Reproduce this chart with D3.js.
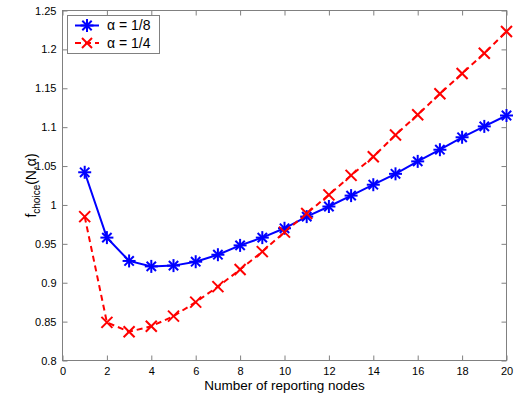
<!DOCTYPE html>
<html><head><meta charset="utf-8">
<script src="https://cdn.jsdelivr.net/npm/d3@7"></script>
<style>body{margin:0;background:#fff}text{font-family:"Liberation Sans",Arial,sans-serif}</style>
</head><body>
<svg id="c" width="514" height="396"></svg>
<script>
const N = [1,2,3,4,5,6,7,8,9,10,11,12,13,14,15,16,17,18,19,20];
const alpha8 = [1.042,0.958,0.928,0.921,0.922,0.927,0.936,0.948,0.958,0.970,0.985,0.998,1.012,1.026,1.040,1.056,1.071,1.087,1.101,1.115];
const alpha4 = [0.985,0.849,0.837,0.844,0.857,0.875,0.895,0.917,0.940,0.965,0.989,1.013,1.038,1.062,1.090,1.116,1.143,1.169,1.195,1.223];
const xTicks = [0,2,4,6,8,10,12,14,16,18,20];
const yTicks = [0.8,0.85,0.9,0.95,1,1.05,1.1,1.15,1.2,1.25];
const legendLabels = ["α = 1/8","α = 1/4"];

const svg = d3.select("#c");
const L=62.5,R=506.5,T=10.5,B=360.5;
const x = d3.scaleLinear().domain([0,20]).range([L,R]);
const y = d3.scaleLinear().domain([0.8,1.25]).range([B,T]);
const axc="#808080";
const fmt = d=>d3.format("")(+d.toFixed(2));

svg.append("rect").attr("x",L).attr("y",T).attr("width",R-L).attr("height",B-T).attr("fill","none").attr("stroke",axc);
const gx=svg.append("g").attr("transform",`translate(0,${B})`).call(d3.axisBottom(x).tickValues(xTicks).tickSizeInner(-5).tickSizeOuter(0).tickPadding(7).tickFormat(fmt));
const gx2=svg.append("g").attr("transform",`translate(0,${T})`).call(d3.axisTop(x).tickValues(xTicks).tickSizeInner(-5).tickSizeOuter(0).tickFormat(""));
const gy=svg.append("g").attr("transform",`translate(${L},0)`).call(d3.axisLeft(y).tickValues(yTicks).tickSizeInner(-5).tickSizeOuter(0).tickPadding(6).tickFormat(fmt));
const gy2=svg.append("g").attr("transform",`translate(${R},0)`).call(d3.axisRight(y).tickValues(yTicks).tickSizeInner(-5).tickSizeOuter(0).tickFormat(""));
[gx,gx2,gy,gy2].forEach(g=>{g.select(".domain").remove();g.selectAll("line").attr("stroke",axc);g.selectAll("text").attr("fill","#000").style("font-size","11px").style("font-family","Liberation Sans, Arial, sans-serif");});

svg.append("text").attr("x",(L+R)/2).attr("y",390).attr("text-anchor","middle").style("font-size","13.5px").text("Number of reporting nodes");
const yl=svg.append("text").attr("transform",`translate(36,${(T+B)/2}) rotate(-90)`).attr("text-anchor","middle").style("font-size","14px");
yl.append("tspan").text("f");
yl.append("tspan").attr("dy",4).style("font-size","10px").text("choice");
yl.append("tspan").attr("dy",-4).text("(N,α)");

const line=d3.line().x((d,i)=>x(N[i])).y(d=>y(d));
svg.append("path").datum(alpha8).attr("d",line).attr("fill","none").attr("stroke","#0000ff").attr("stroke-width",2);
svg.append("path").datum(alpha4).attr("d",line).attr("fill","none").attr("stroke","#ff0000").attr("stroke-width",2).attr("stroke-dasharray","6,4");

function star(g,cx,cy,s,c){
  const a=s, b=s*0.72;
  [[-a,0,a,0],[0,-a,0,a],[-b,-b,b,b],[-b,b,b,-b]].forEach(p=>g.append("line").attr("x1",cx+p[0]).attr("y1",cy+p[1]).attr("x2",cx+p[2]).attr("y2",cy+p[3]).attr("stroke",c).attr("stroke-width",2));
}
function cross(g,cx,cy,s,c){
  [[-s,-s,s,s],[-s,s,s,-s]].forEach(p=>g.append("line").attr("x1",cx+p[0]).attr("y1",cy+p[1]).attr("x2",cx+p[2]).attr("y2",cy+p[3]).attr("stroke",c).attr("stroke-width",2));
}
const gm=svg.append("g");
alpha8.forEach((v,i)=>star(gm,x(N[i]),y(v),6.5,"#0000ff"));
alpha4.forEach((v,i)=>cross(gm,x(N[i]),y(v),5.5,"#ff0000"));

const lg=svg.append("g");
lg.append("rect").attr("x",67.5).attr("y",15.5).attr("width",92).attr("height",38).attr("fill","#fff").attr("stroke",axc);
lg.append("line").attr("x1",75).attr("x2",99).attr("y1",25.5).attr("y2",25.5).attr("stroke","#0000ff").attr("stroke-width",2);
star(lg,87,25.5,6.5,"#0000ff");
lg.append("line").attr("x1",75).attr("x2",99).attr("y1",43).attr("y2",43).attr("stroke","#ff0000").attr("stroke-width",2).attr("stroke-dasharray","6,4");
cross(lg,87,43,5,"#ff0000");
legendLabels.forEach((t,i)=>lg.append("text").attr("x",107).attr("y",30+i*17.5).style("font-size","14px").text(t));
</script>
</body></html>
